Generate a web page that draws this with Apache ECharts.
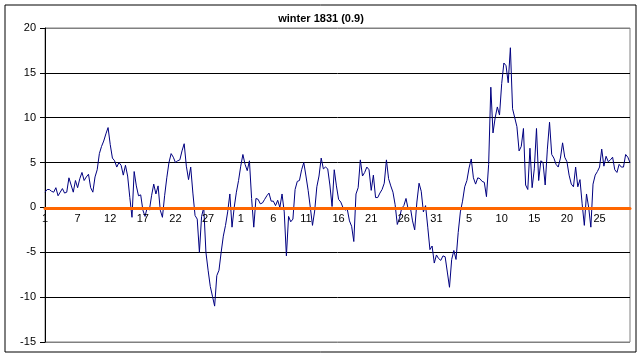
<!DOCTYPE html>
<html>
<head>
<meta charset="utf-8">
<script src="https://cdn.jsdelivr.net/npm/echarts@6/dist/echarts.min.js"></script>
<style>
html,body{margin:0;padding:0;background:#fff;}
#chart{width:642px;height:358px;}
</style>
</head>
<body>
<div id="chart"></div>
<script>
// Day-of-month labels shown every 5 days (15 readings)
var xTickLabels = ['1','7','12','17','22','27','1','6','11','16','21','26','31','5','10','15','20','25'];
var yTicks = [-15, -10, -5, 0, 5, 10, 15, 20];
// Readings (3 per day), Dec 1830 - Feb 1831
var values = [
  1.7, 2.0, 2.0, 1.8, 1.7, 2.2, 1.3, 1.7, 2.1, 1.6,
  1.7, 3.3, 2.5, 1.7, 3.0, 2.2, 3.2, 3.9, 3.0, 3.4,
  3.7, 2.2, 1.7, 3.4, 4.2, 6.0, 6.8, 7.4, 8.2, 8.9,
  7.0, 5.5, 5.2, 4.5, 5.0, 4.7, 3.6, 4.7, 3.5, 1.1,
  -1.1, 4.0, 2.4, 1.3, 1.4, -0.3, -1.0, 0.0, -0.3, 1.3,
  2.6, 1.5, 2.4, -0.3, -1.1, 1.3, 3.3, 5.0, 6.0, 5.6,
  5.0, 5.2, 5.3, 6.3, 7.1, 4.6, 3.1, 4.5, 1.6, -0.9,
  -1.3, -5.0, -1.0, 0.0, -5.0, -7.0, -8.8, -9.9, -11.0, -7.6,
  -7.0, -5.0, -3.2, -2.0, -0.5, 1.5, -2.2, 0.0, 1.7, 3.0,
  4.6, 5.9, 4.8, 4.1, 5.2, 1.0, -2.2, 1.0, 0.9, 0.4,
  0.5, 0.9, 1.3, 1.6, 0.7, 0.7, 0.2, 0.8, 0.0, 1.5,
  -0.5, -5.4, -1.0, -1.6, -1.3, 2.0, 2.9, 3.0, 4.2, 5.0,
  3.5, 1.9, 0.0, -2.0, -0.4, 2.3, 3.5, 5.5, 4.3, 4.5,
  4.3, 2.5, 0.1, 4.2, 2.4, 0.9, 0.6, 0.0, -0.3, -0.2,
  -1.5, -2.1, -3.8, 1.5, 2.2, 5.3, 3.5, 3.9, 4.5, 4.2,
  1.9, 3.6, 1.1, 1.1, 1.6, 2.0, 2.7, 5.3, 3.2, 2.4,
  1.7, 0.3, -1.9, -1.2, -0.1, 0.2, 1.0, -0.2, 0.0, -1.5,
  -2.5, 0.6, 2.7, 1.8, -0.5, 0.2, -2.2, -4.7, -4.3, -6.2,
  -5.3, -5.7, -5.9, -5.4, -5.5, -7.2, -8.9, -5.8, -4.8, -5.8,
  -2.8, -0.5, 0.7, 2.3, 3.0, 4.4, 5.4, 3.3, 2.6, 3.3,
  3.2, 2.9, 2.8, 1.2, 4.8, 13.4, 8.3, 10.0, 11.2, 10.3,
  13.8, 16.1, 15.8, 13.9, 17.8, 11.0, 10.0, 9.0, 6.3, 6.8,
  8.8, 2.5, 2.0, 6.6, 2.2, 4.3, 8.8, 3.0, 5.2, 5.0,
  2.5, 6.5, 9.5, 5.9, 5.5, 4.8, 4.5, 5.5, 7.2, 5.6,
  5.1, 3.6, 2.6, 2.3, 4.5, 2.3, 3.1, 0.4, -2.0, 1.5,
  0.0, -2.2, 2.6, 3.6, 4.0, 4.5, 6.5, 4.6, 5.7, 5.1,
  5.3, 5.6, 4.2, 3.9, 4.8, 4.5, 4.5, 5.9, 5.6, 5.0
];
var categories = values.map(function (v, i) { return String(i); });
var FONT = 'Liberation Sans, Arial, sans-serif';
var GRID_BOTTOM = 16;

var chart = echarts.init(document.getElementById('chart'), null, {renderer: 'canvas'});
chart.setOption({
  animation: false,
  backgroundColor: '#ffffff',
  title: {
    text: 'winter 1831 (0.9)',
    left: 'center',
    top: 8,
    textStyle: {fontFamily: FONT, fontSize: 11, fontWeight: 'bold', color: '#000'}
  },
  graphic: [{
    type: 'rect',
    shape: {x: 5, y: 5, width: 631, height: 347},
    style: {fill: 'none', stroke: '#000', lineWidth: 1},
    silent: true,
    z: 100
  }],
  grid: {
    left: 45, right: 12, top: 28, bottom: GRID_BOTTOM,
    show: true, borderColor: '#808080', borderWidth: 1, backgroundColor: 'transparent'
  },
  xAxis: {
    type: 'category',
    data: categories,
    boundaryGap: false,
    z: 3,
    offset: 0,
    axisLine: {onZero: false, lineStyle: {color: '#FF6600', width: 3}},
    axisTick: {show: false},
    axisLabel: {
      interval: 14,
      margin: 6,
      fontFamily: FONT, fontSize: 11, color: '#000',
      formatter: function (v, idx) {
        var k = idx / 15;
        return (idx % 15 === 0 && k < xTickLabels.length) ? xTickLabels[k] : '';
      }
    },
    splitLine: {show: false}
  },
  yAxis: {
    type: 'value',
    min: yTicks[0], max: yTicks[yTicks.length - 1], interval: 5,
    axisLine: {show: true, lineStyle: {color: '#000', width: 1}},
    axisTick: {show: true, length: 5, lineStyle: {color: '#000'}},
    axisLabel: {margin: 9, fontFamily: FONT, fontSize: 11, color: '#000'},
    splitLine: {show: true, lineStyle: {color: ['#808080','#000','#000','#000','#000','#000','#000','#808080'], width: 1}}
  },
  series: [{
    type: 'line',
    data: values,
    showSymbol: false,
    symbol: 'none',
    lineStyle: {color: '#000080', width: 1},
    z: 2
  }]
});
// Move the category axis (line + labels) up to the zero value, via the y scale
var zeroY = chart.convertToPixel({yAxisIndex: 0}, 0);
var bottomY = chart.convertToPixel({yAxisIndex: 0}, yTicks[0]);
chart.setOption({xAxis: {offset: -(bottomY - zeroY)}});
</script>
</body>
</html>
